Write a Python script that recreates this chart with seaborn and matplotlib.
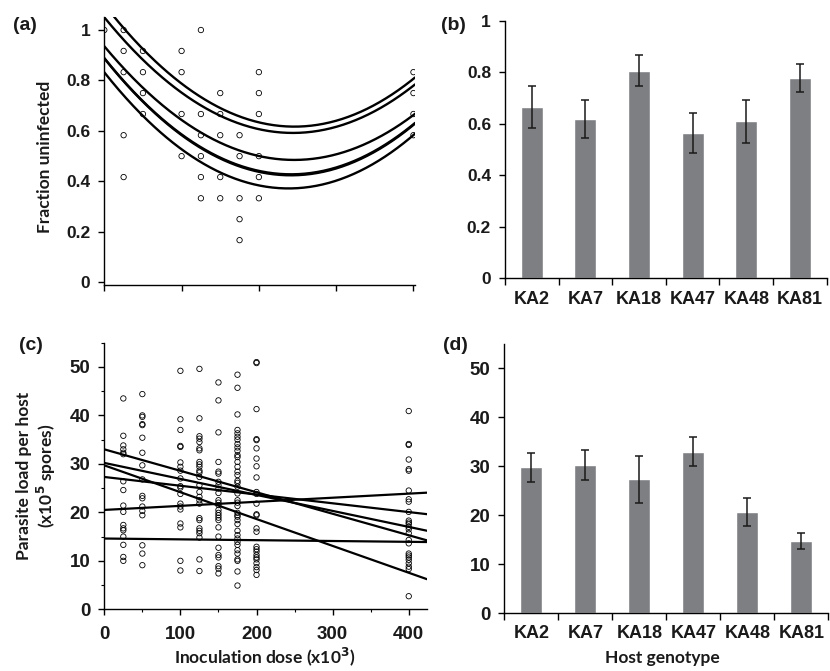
import numpy as np
import pandas as pd
import matplotlib
matplotlib.use("Agg")
import matplotlib.pyplot as plt
from matplotlib.ticker import MultipleLocator, FixedLocator
import seaborn as sns

sns.set_theme(style="ticks")
plt.rcParams['font.family'] = ['Liberation Sans', 'DejaVu Sans']
plt.rcParams['font.weight'] = 'bold'

# ---------------- data ----------------
genotypes = ["KA2", "KA7", "KA18", "KA47", "KA48", "KA81"]

# panel (b): fraction uninfected per genotype
frac_mean = [0.665, 0.620, 0.805, 0.564, 0.609, 0.777]
frac_err = [0.080, 0.074, 0.060, 0.078, 0.083, 0.053]

# panel (d): parasite load per genotype
load_mean = [29.8, 30.2, 27.3, 33.0, 20.6, 14.7]
load_err = [3.0, 3.05, 4.9, 3.0, 2.9, 1.6]

# panel (a): observed fraction uninfected vs dose
dose_a = [0,
          25, 25, 25, 25, 25,
          50, 50, 50, 50,
          100, 100, 100, 100,
          125, 125, 125, 125, 125, 125,
          150, 150, 150, 150, 150,
          175, 175, 175, 175, 175,
          200, 200, 200, 200, 200, 200,
          400, 400, 400, 400]
frac_a = [1.0,
          1.0, 0.917, 0.833, 0.583, 0.417,
          0.917, 0.833, 0.75, 0.667,
          0.917, 0.833, 0.667, 0.5,
          1.0, 0.667, 0.583, 0.5, 0.417, 0.333,
          0.75, 0.667, 0.583, 0.417, 0.333,
          0.583, 0.5, 0.333, 0.25, 0.167,
          0.833, 0.75, 0.667, 0.5, 0.417, 0.333,
          0.833, 0.75, 0.667, 0.583]

# panel (a): fitted quadratic curves per genotype (vertex dose, minimum, curvature)
curve_vertex = [245.6, 241.5, 246.0, 238.4, 241.5, 244.0]
curve_min = [0.485, 0.428, 0.617, 0.372, 0.424, 0.592]
curve_curv = [7.47e-6, 7.9e-6, 8.0e-6, 8.1e-6, 7.95e-6, 7.7e-6]

# panel (c): parasite load per host vs dose
load_25 = [43.5, 35.8, 33.8, 33.0, 32.3, 32.0, 26.4, 24.6, 21.4, 20.1, 17.4, 16.7,
           16.3, 15.0, 13.3, 10.8, 10.0]
load_50 = [44.4, 40.0, 39.7, 38.2, 38.0, 35.4, 32.3, 29.7, 26.8, 23.4, 22.9, 21.2,
           20.3, 19.4, 13.2, 11.5, 9.1]
load_100 = [49.2, 39.2, 37.0, 33.7, 33.5, 30.3, 29.4, 28.6, 27.0, 25.4, 25.1, 23.8,
            21.8, 21.2, 20.6, 17.7, 16.9, 10.0, 8.0]
load_125 = [49.6, 39.4, 35.7, 35.2, 34.5, 33.2, 32.8, 30.4, 29.9, 29.4, 28.6, 28.2,
            27.3, 25.6, 24.2, 23.2, 22.5, 21.8, 18.8, 18.4, 16.7, 16.2, 15.7, 14.8,
            10.3, 7.9]
load_150 = [46.8, 43.1, 36.5, 30.4, 28.4, 28.0, 26.3, 25.6, 24.9, 24.0, 22.5, 22.0,
            21.5, 20.5, 19.9, 19.4, 18.9, 18.4, 16.9, 15.0, 12.7, 11.2, 10.7, 8.9,
            8.4, 7.4]
load_175 = [48.4, 45.7, 40.2, 37.0, 36.3, 35.6, 35.0, 34.1, 33.4, 32.7, 31.8, 31.4,
            30.4, 29.4, 28.4, 27.7, 26.5, 26.1, 25.3, 23.9, 22.5, 22.0, 21.3, 19.9,
            19.4, 19.1, 18.4, 17.6, 16.2, 15.3, 14.6, 13.9, 13.3, 12.2, 11.5, 10.3,
            10.0, 7.8, 4.9]
load_200 = [51.0, 50.8, 41.3, 35.1, 34.9, 33.2, 31.1, 29.5, 27.2, 24.2, 23.8, 21.8,
            19.6, 19.4, 16.7, 16.0, 12.9, 12.4, 11.9, 11.2, 10.7, 10.3, 9.5, 8.7,
            8.1, 7.1]
load_400 = [40.9, 34.1, 33.9, 30.9, 28.9, 28.6, 24.5, 22.7, 22.2, 20.1, 18.3, 17.9,
            17.6, 17.0, 16.5, 15.7, 14.3, 13.6, 11.5, 11.1, 10.7, 10.2, 9.5, 8.8,
            8.3, 2.7]
doses_c = [25, 50, 100, 125, 150, 175, 200, 400]

# panel (c): fitted regression lines per genotype
line_intercept = [29.7, 30.2, 27.3, 33.0, 20.5, 14.6]
line_slope = [-0.0554, -0.033, -0.0181, -0.0443, 0.0084, -0.0017]

# ---------------- figure ----------------
W, H = 830, 671
fig = plt.figure(figsize=(W / 100, H / 100), dpi=100)

def px_axes(l, t, r, b):
    return fig.add_axes([l / W, 1 - b / H, (r - l) / W, (b - t) / H])

ax_a = px_axes(104.3, 17.4, 415, 285.3)
ax_b = px_axes(505, 20.7, 826.7, 278.3)
ax_c = px_axes(104.3, 342.7, 427, 609.3)
ax_d = px_axes(504.3, 344, 828.3, 613)

bar_color = "#7e7f83"

def style(ax):
    for s in ["top", "right"]:
        ax.spines[s].set_visible(False)
    for s in ["left", "bottom"]:
        ax.spines[s].set_color("black")
        ax.spines[s].set_linewidth(1.0)
    ax.tick_params(axis='both', which='major', direction='out', length=4, width=1,
                   color='black', labelsize=12.5, labelcolor='#1a1a1a')
    ax.tick_params(axis='both', which='minor', direction='out', length=2.5, width=0.8,
                   color='black')
    for lab in ax.get_xticklabels() + ax.get_yticklabels():
        lab.set_fontweight('bold')
    ax.set_xlabel("")
    ax.set_ylabel("")

# ----- panel (a) -----
df_a = pd.DataFrame({"dose": dose_a, "frac": frac_a})
sns.scatterplot(data=df_a, x="dose", y="frac", ax=ax_a, s=15, marker='o', legend=False)
coll = ax_a.collections[-1]
coll.set_facecolor('none'); coll.set_edgecolor('black'); coll.set_linewidth(0.6)

xg = np.linspace(0, 402, 300)
rows = []
for g, xv, ym, a in zip(genotypes, curve_vertex, curve_min, curve_curv):
    for x in xg:
        rows.append((g, x, ym + a * (x - xv) ** 2))
df_ca = pd.DataFrame(rows, columns=["genotype", "dose", "pred"])
sns.lineplot(data=df_ca, x="dose", y="pred", units="genotype", estimator=None,
             color="black", lw=1.7, ax=ax_a, legend=False)
ax_a.set_xlim(0, 402)
ax_a.set_ylim(-0.012, 1.05)
ax_a.xaxis.set_major_locator(FixedLocator([0, 100, 200, 300, 400]))
ax_a.set_xticklabels([])
ax_a.set_yticks([0, 0.2, 0.4, 0.6, 0.8, 1.0])
ax_a.set_yticklabels(["0", "0.2", "0.4", "0.6", "0.8", "1"])
style(ax_a)
ax_a.tick_params(axis='y', pad=6)

# ----- panel (b) -----
df_b = pd.DataFrame({"genotype": genotypes, "frac": frac_mean})
sns.barplot(data=df_b, x="genotype", y="frac", order=genotypes, color=bar_color,
            saturation=1, width=0.41, errorbar=None, ax=ax_b)
ax_b.errorbar(np.arange(len(genotypes)), frac_mean, yerr=frac_err, fmt='none',
              ecolor='#1a1a1a', elinewidth=1.1, capsize=3, capthick=1.1)
ax_b.set_xlim(-0.5, 5.5)
ax_b.set_ylim(0, 1)
ax_b.set_yticks([0, 0.2, 0.4, 0.6, 0.8, 1.0])
ax_b.set_yticklabels(["0", "0.2", "0.4", "0.6", "0.8", "1"])
style(ax_b)
ax_b.xaxis.set_minor_locator(FixedLocator(np.arange(-0.5, 6.0, 1.0)))
ax_b.tick_params(axis='x', which='major', length=0, pad=9)
ax_b.tick_params(axis='x', which='minor', length=5, width=1)
ax_b.tick_params(axis='y', pad=6)
for lab in ax_b.get_xticklabels():
    lab.set_fontweight('bold'); lab.set_fontsize(13)

# ----- panel (c) -----
rows = []
for d, vals in zip(doses_c, [load_25, load_50, load_100, load_125, load_150,
                            load_175, load_200, load_400]):
    for v in vals:
        rows.append((d, v))
df_c = pd.DataFrame(rows, columns=["dose", "load"])
sns.scatterplot(data=df_c, x="dose", y="load", ax=ax_c, s=15, marker='o', legend=False)
coll = ax_c.collections[-1]
coll.set_facecolor('none'); coll.set_edgecolor('black'); coll.set_linewidth(0.6)

rows = []
for g, b0, b1 in zip(genotypes, line_intercept, line_slope):
    for x in (0, 424):
        rows.append((g, x, b0 + b1 * x))
df_cl = pd.DataFrame(rows, columns=["genotype", "dose", "pred"])
sns.lineplot(data=df_cl, x="dose", y="pred", units="genotype", estimator=None,
             color="black", lw=1.6, ax=ax_c, legend=False)
ax_c.set_xlim(0, 424)
ax_c.set_ylim(0, 55)
ax_c.xaxis.set_major_locator(FixedLocator([0, 100, 200, 300, 400]))
ax_c.xaxis.set_minor_locator(MultipleLocator(50))
ax_c.yaxis.set_major_locator(FixedLocator([0, 10, 20, 30, 40, 50]))
ax_c.yaxis.set_minor_locator(MultipleLocator(5))
style(ax_c)
ax_c.tick_params(axis='x', which='major', pad=8)
ax_c.tick_params(axis='y', pad=6)
for lab in ax_c.get_xticklabels():
    lab.set_fontsize(13.5)
for lab in ax_c.get_yticklabels():
    lab.set_fontsize(13.5)

# ----- panel (d) -----
df_d = pd.DataFrame({"genotype": genotypes, "load": load_mean})
sns.barplot(data=df_d, x="genotype", y="load", order=genotypes, color=bar_color,
            saturation=1, width=0.41, errorbar=None, ax=ax_d)
ax_d.errorbar(np.arange(len(genotypes)), load_mean, yerr=load_err, fmt='none',
              ecolor='#1a1a1a', elinewidth=1.1, capsize=3, capthick=1.1)
ax_d.set_xlim(-0.5, 5.5)
ax_d.set_ylim(0, 55)
ax_d.yaxis.set_major_locator(FixedLocator([0, 10, 20, 30, 40, 50]))
style(ax_d)
ax_d.xaxis.set_minor_locator(FixedLocator(np.arange(-0.5, 6.0, 1.0)))
ax_d.tick_params(axis='x', which='major', length=0, pad=9)
ax_d.tick_params(axis='x', which='minor', length=5, width=1)
ax_d.tick_params(axis='y', pad=6)
for lab in ax_d.get_xticklabels():
    lab.set_fontweight('bold'); lab.set_fontsize(13)
for lab in ax_d.get_yticklabels():
    lab.set_fontsize(13.5)

# ----- labels -----
lab_font = dict(fontsize=12.5, fontweight='bold', family=['Lato', 'DejaVu Sans'],
                color='#1a1a1a')
fig.text(45 / W, 1 - 157 / H, "Fraction uninfected", rotation=90, ha='center',
         va='center', **lab_font)
fig.text(37 / W, 1 - 476 / H, "Parasite load per host\n(x10$^{\\mathbf{5}}$ spores)",
         rotation=90, ha='center', va='center', linespacing=1.2, **lab_font)
fig.text(265 / W, 1 - 657 / H, "Inoculation dose (x10$^{\\mathbf{3}}$)", ha='center',
         va='center', **lab_font)
fig.text(662 / W, 1 - 658 / H, "Host genotype", ha='center', va='center', **lab_font)

panel_font = dict(fontsize=14, fontweight='bold', family=['Liberation Sans', 'DejaVu Sans'],
                  color='#1a1a1a')
fig.text(25 / W, 1 - 25 / H, "(a)", ha='center', va='center', **panel_font)
fig.text(453 / W, 1 - 26 / H, "(b)", ha='center', va='center', **panel_font)
fig.text(31 / W, 1 - 346 / H, "(c)", ha='center', va='center', **panel_font)
fig.text(455 / W, 1 - 345 / H, "(d)", ha='center', va='center', **panel_font)

fig.savefig("out.png", dpi=100)
